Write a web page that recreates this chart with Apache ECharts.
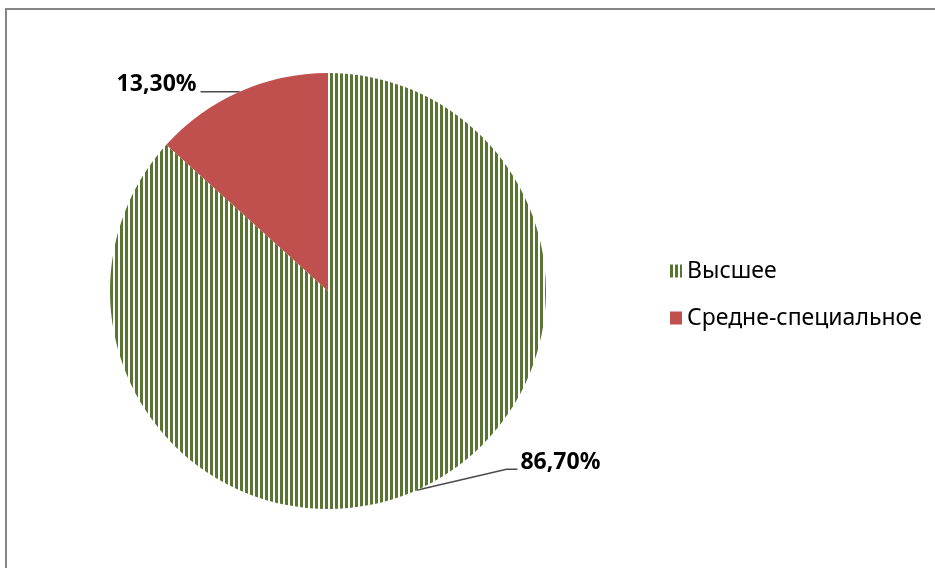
<!DOCTYPE html>
<html>
<head>
<meta charset="utf-8">
<script src="https://cdn.jsdelivr.net/npm/echarts@6/dist/echarts.min.js"></script>
<style>
    html, body {margin: 0; padding: 0; background: #fff;}
    #chart {width: 935px; height: 568px;}
</style>
</head>
<body>
<div id="chart"></div>
<script>
    // данные диаграммы
    var categories = ['Высшее', 'Средне-специальное'];
    var values = [86.7, 13.3];
    var valueLabels = ['86,70%', '13,30%'];

    // штриховка для "Высшее" (вертикальные полосы)
    function makeStripes() {
        var c = document.createElement('canvas');
        c.width = 5;
        c.height = 5;
        var ctx = c.getContext('2d');
        ctx.fillStyle = '#ffffff';
        ctx.fillRect(0, 0, 5, 5);
        ctx.fillStyle = '#587632';
        ctx.fillRect(0, 0, 3, 5);
        return c;
    }
    var colors = [{image: makeStripes(), repeat: 'repeat'}, '#c0504d'];

    var pieData = categories.map(function (name, i) {
        return {name: name, value: values[i], itemStyle: {color: colors[i]}};
    });

    var chart = echarts.init(document.getElementById('chart'));
    var option = {
        animation: false,
        graphic: [
            {
                type: 'rect',
                shape: {x: 6, y: 9, width: 2000, height: 2000},
                style: {fill: 'none', stroke: '#868686', lineWidth: 2},
                silent: true
            }
        ],
        legend: {
            orient: 'vertical',
            left: 665,
            top: 253,
            itemWidth: 12,
            itemHeight: 13,
            itemGap: 21,
            icon: 'rect',
            data: categories,
            textStyle: {
                fontFamily: 'Noto Sans',
                fontSize: 23,
                lineHeight: 26,
                color: '#000'
            }
        },
        series: [
            {
                type: 'pie',
                center: [328, 291],
                radius: 218,
                startAngle: 90,
                clockwise: true,
                data: pieData,
                itemStyle: {borderWidth: 0},
                label: {
                    show: true,
                    position: 'outside',
                    formatter: function (p) { return valueLabels[p.dataIndex]; },
                    fontFamily: 'Noto Sans',
                    fontWeight: 'bold',
                    fontSize: 23,
                    color: '#000'
                },
                labelLine: {
                    show: true,
                    length: 10,
                    length2: 10,
                    lineStyle: {color: '#4a4a4a', width: 1.5}
                },
                labelLayout: function (params) {
                    var pts = params.labelLinePoints;
                    if (!pts) return {};
                    var s = pts[0];
                    if (params.dataIndex === 0) {
                        return {
                            x: s[0] + 104,
                            y: s[1] - 28,
                            align: 'left',
                            verticalAlign: 'middle',
                            labelLinePoints: [s, [s[0] + 90, s[1] - 21], [s[0] + 101, s[1] - 21]]
                        };
                    }
                    return {
                        x: s[0] - 43,
                        y: s[1] - 7,
                        align: 'right',
                        verticalAlign: 'middle',
                        labelLinePoints: [s, [s[0] - 39, s[1]]]
                    };
                }
            }
        ]
    };
    chart.setOption(option);
</script>
</body>
</html>
